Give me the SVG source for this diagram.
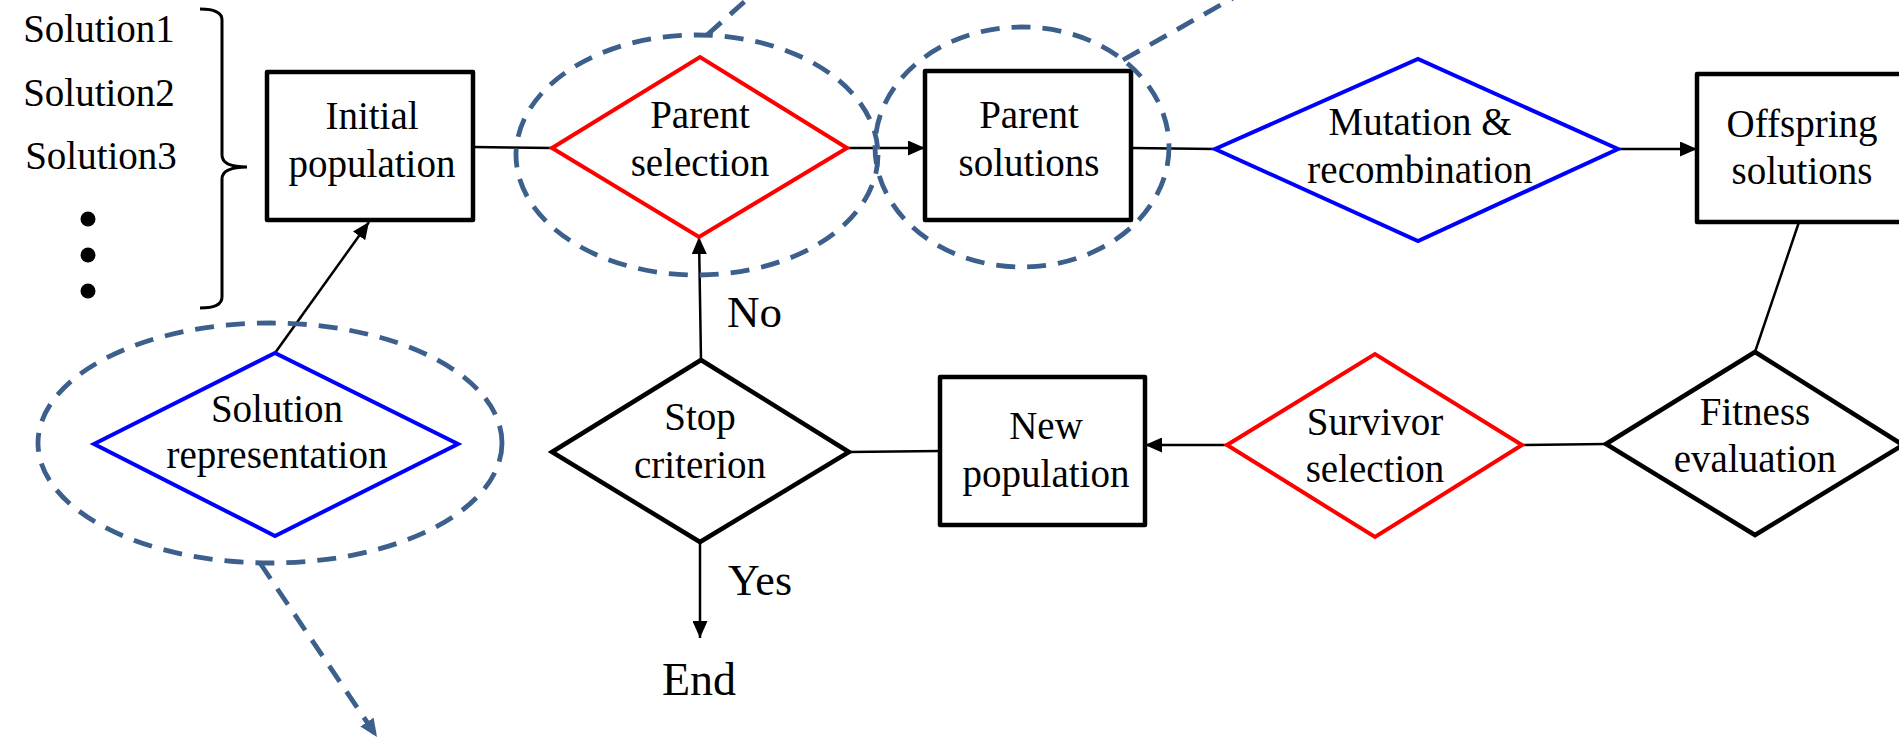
<svg xmlns="http://www.w3.org/2000/svg" width="1899" height="740" viewBox="0 0 1899 740" font-family="Liberation Serif, Times New Roman, serif">
<style>
.lb{font-family:'Liberation Serif','Times New Roman',serif;fill:#000}
.nl{font-family:'Liberation Serif','Times New Roman',serif;fill:#000}
.box{fill:#fff;stroke:#000;stroke-width:4.5;stroke-linejoin:round}
.dr{fill:#fff;stroke:#ff0000;stroke-width:4}
.db{fill:#fff;stroke:#0000ff;stroke-width:4}
.dk{fill:#fff;stroke:#000;stroke-width:4.5}
.c{fill:none;stroke:#000;stroke-width:2.5}
.el{fill:none;stroke:#3d5f8c;stroke-width:4.8;stroke-dasharray:19 12}
</style>
<defs>
<marker id="ah" viewBox="0 0 17 15" refX="17" refY="7.5" markerWidth="17" markerHeight="15" markerUnits="userSpaceOnUse" orient="auto">
<path d="M0,0 L17,7.5 L0,15 Z" fill="#000"/>
</marker>
<marker id="ahb" viewBox="0 0 18 16" refX="18" refY="8" markerWidth="18" markerHeight="16" markerUnits="userSpaceOnUse" orient="auto">
<path d="M0,0 L18,8 L0,16 Z" fill="#3d5f8c"/>
</marker>
</defs>
<rect width="1899" height="740" fill="#fff"/>

<g id="solutions-list">
<g class="nl" font-size="39" text-anchor="middle">
<text x="99" y="42">Solution1</text>
<text x="99" y="106">Solution2</text>
<text x="101" y="169">Solution3</text>
</g>
<circle cx="88" cy="219" r="7.5" fill="#000"/>
<circle cx="88" cy="255" r="7.5" fill="#000"/>
<circle cx="88" cy="291" r="7.5" fill="#000"/>
<path d="M200,9 Q222,9 222,20 L222,155 Q222,167 247,167 Q222,167 222,179 L222,297 Q222,308 200,308" fill="none" stroke="#000" stroke-width="3"/>
</g>

<g id="connectors">
<line class="c" x1="473" y1="147" x2="552" y2="148"/>
<line class="c" x1="847" y1="148" x2="925" y2="148" marker-end="url(#ah)"/>
<line class="c" x1="1131" y1="148" x2="1215" y2="149"/>
<line class="c" x1="1618" y1="149" x2="1697" y2="149" marker-end="url(#ah)"/>
<line class="c" x1="1799" y1="222" x2="1755" y2="352"/>
<line class="c" x1="1606" y1="444" x2="1522" y2="445"/>
<line class="c" x1="1227" y1="445" x2="1145" y2="445" marker-end="url(#ah)"/>
<line class="c" x1="940" y1="451" x2="849" y2="452"/>
<line class="c" x1="701" y1="360" x2="699" y2="237" marker-end="url(#ah)"/>
<line class="c" x1="700" y1="542" x2="700" y2="638" marker-end="url(#ah)"/>
<line class="c" x1="275" y1="353" x2="369" y2="222" marker-end="url(#ah)"/>
<text class="lb" x="727" y="327" font-size="45">No</text>
<text class="lb" x="728" y="595" font-size="44">Yes</text>
</g>

<g id="initial-population">
<rect class="box" x="267" y="72" width="206" height="148"/>
<text class="nl" x="372" y="129" font-size="39" text-anchor="middle">Initial</text>
<text class="nl" x="372" y="177" font-size="39" text-anchor="middle">population</text>
</g>

<g id="parent-selection">
<polygon class="dr" points="552,148 700,57 847,148 699,237"/>
<text class="nl" x="700" y="128" font-size="39" text-anchor="middle">Parent</text>
<text class="nl" x="700" y="176" font-size="39" text-anchor="middle">selection</text>
</g>

<g id="parent-solutions">
<rect class="box" x="925" y="71" width="206" height="149"/>
<text class="nl" x="1029" y="128" font-size="39" text-anchor="middle">Parent</text>
<text class="nl" x="1029" y="176" font-size="39" text-anchor="middle">solutions</text>
</g>

<g id="mutation-recombination">
<polygon class="db" points="1215,149 1418,59 1618,149 1418,241"/>
<text class="nl" x="1420" y="135" font-size="39" text-anchor="middle">Mutation &amp;</text>
<text class="nl" x="1420" y="183" font-size="39" text-anchor="middle">recombination</text>
</g>

<g id="offspring-solutions">
<rect class="box" x="1697" y="74" width="220" height="148"/>
<text class="nl" x="1802" y="137" font-size="39" text-anchor="middle">Offspring</text>
<text class="nl" x="1802" y="184" font-size="39" text-anchor="middle">solutions</text>
</g>

<g id="fitness-evaluation">
<polygon class="dk" points="1606,444 1755,352 1903,445 1755,535"/>
<text class="nl" x="1755" y="425" font-size="39" text-anchor="middle">Fitness</text>
<text class="nl" x="1755" y="472" font-size="39" text-anchor="middle">evaluation</text>
</g>

<g id="survivor-selection">
<polygon class="dr" points="1227,445 1375,354 1522,445 1375,537"/>
<text class="nl" x="1375" y="435" font-size="39" text-anchor="middle">Survivor</text>
<text class="nl" x="1375" y="482" font-size="39" text-anchor="middle">selection</text>
</g>

<g id="new-population">
<rect class="box" x="940" y="377" width="205" height="148"/>
<text class="nl" x="1046" y="439" font-size="39" text-anchor="middle">New</text>
<text class="nl" x="1046" y="487" font-size="39" text-anchor="middle">population</text>
</g>

<g id="stop-criterion">
<polygon class="dk" points="552,452 701,360 849,452 700,542"/>
<text class="nl" x="700" y="430" font-size="39" text-anchor="middle">Stop</text>
<text class="nl" x="700" y="478" font-size="39" text-anchor="middle">criterion</text>
</g>

<g id="end">
<text class="lb" x="699" y="695" font-size="46" text-anchor="middle">End</text>
</g>

<g id="solution-representation">
<polygon class="db" points="94,444 275,353 458,444 275,536"/>
<text class="nl" x="277" y="422" font-size="39" text-anchor="middle">Solution</text>
<text class="nl" x="277" y="468" font-size="39" text-anchor="middle">representation</text>
</g>

<g id="highlights">
<ellipse class="el" cx="697" cy="155" rx="181" ry="120"/>
<ellipse class="el" cx="1022" cy="147" rx="147" ry="120"/>
<ellipse class="el" cx="270" cy="443" rx="232" ry="120"/>
<line class="el" x1="707" y1="35" x2="752" y2="-5"/>
<line class="el" x1="1123" y1="60" x2="1240" y2="-6"/>
<line class="el" x1="260" y1="563" x2="377" y2="737" marker-end="url(#ahb)"/>
</g>
</svg>
